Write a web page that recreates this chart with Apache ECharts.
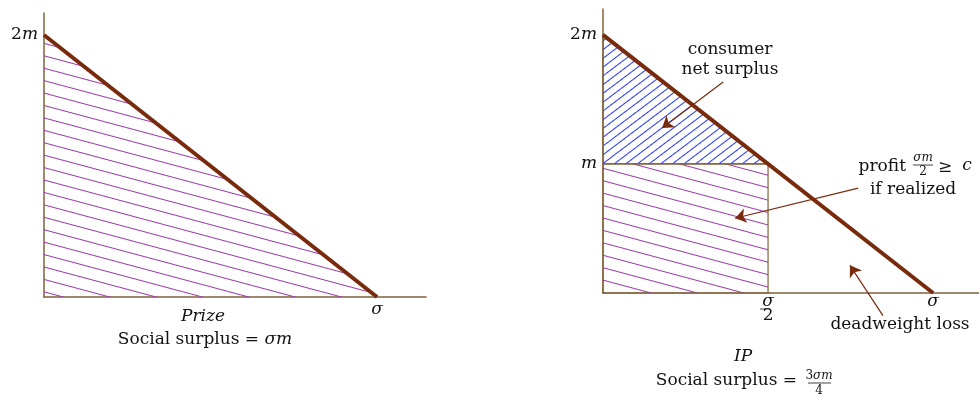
<!DOCTYPE html>
<html>
<head>
<meta charset="utf-8">
<script src="https://cdn.jsdelivr.net/npm/echarts@6/dist/echarts.min.js"></script>
<style>
  html, body { margin: 0; padding: 0; background: #fff; }
  #chart { width: 979px; height: 395px; }
</style>
</head>
<body>
<div id="chart"></div>
<script>
// units: sigma = 1, m = 1
const demandLine = [[0, 2], [1, 0]]
const prizeArea = [[0, 2], [1, 0], [0, 0]]
const consumerArea = [[0, 2], [0.5, 1], [0, 1]]
const profitArea = [[0, 1], [0.5, 1], [0.5, 0], [0, 0]]
const leftYTicks = [2]
const rightYTicks = [1, 2]
const leftXTicks = [1]
const rightXTicks = [0.5, 1]
const yTickText = { 1: '{i|m}', 2: '{n|2}{i|m}' }
const xTickText = { 0.5: '{i|σ}\n{n|2}', 1: '{i|σ}' }
// annotation arrows [from, to] in the right panel
const arrows = [
  [[0.364, 1.635], [0.179, 1.278]],
  [[0.773, 0.812], [0.4, 0.579]],
  [[0.848, -0.175], [0.748, 0.214]]
]

const LINE = '#772a0c'
const AXIS = '#80633a'
const INK = '#111'
const FONT = 'DejaVu Serif'

function hatch (color, gap, angle) {
  let c = document.createElement('canvas')
  c.width = 16
  c.height = gap
  let ctx = c.getContext('2d')
  ctx.fillStyle = color
  ctx.fillRect(0, Math.floor(gap / 2), 16, 1)
  return { image: c, repeat: 'repeat', rotation: angle * Math.PI / 180 }
}

function polygon (points, fill, stroke) {
  return function (params, api) {
    return {
      type: 'polygon',
      shape: { points: points.map(p => api.coord(p)) },
      style: { fill: fill, stroke: stroke || null, lineWidth: 1.2 }
    }
  }
}

function rich (size) {
  return {
    n: { fontFamily: FONT, fontSize: size, fill: INK, color: INK },
    i: { fontFamily: FONT, fontSize: size, fontStyle: 'italic', fill: INK, color: INK }
  }
}

function txt (x, y, text, opts) {
  opts = opts || {}
  return {
    type: 'text',
    x: x,
    y: y,
    z: 100,
    style: {
      text: text,
      fill: INK,
      fontFamily: FONT,
      fontSize: opts.size || 17,
      fontStyle: opts.italic ? 'italic' : 'normal',
      align: opts.align || 'center',
      verticalAlign: 'middle',
      rich: rich(opts.size || 17)
    }
  }
}

function bar (x1, x2, y) {
  return {
    type: 'line',
    z: 100,
    shape: { x1: x1, y1: y, x2: x2, y2: y },
    style: { stroke: INK, lineWidth: 0.8 }
  }
}

const axisBase = {
  type: 'value',
  min: 0,
  splitLine: { show: false },
  axisTick: { show: false },
  axisLine: { show: true, onZero: false, lineStyle: { color: AXIS, width: 1.5 } }
}

const myChart = echarts.init(document.getElementById('chart'))

let option = {
  animation: false,
  grid: [
    { left: 44, top: 13, width: 382, height: 284 },
    { left: 603, top: 9, width: 376, height: 284 }
  ],
  xAxis: [
    Object.assign({}, axisBase, {
      gridIndex: 0, max: 1.147,
      axisLabel: { customValues: leftXTicks, margin: 4, color: INK, verticalAlign: 'top', formatter: v => xTickText[v], rich: rich(17) }
    }),
    Object.assign({}, axisBase, {
      gridIndex: 1, max: 1.139,
      axisLabel: { customValues: rightXTicks, margin: 2, color: INK, verticalAlign: 'top', lineHeight: 14, formatter: v => xTickText[v], rich: rich(17) }
    })
  ],
  yAxis: [
    Object.assign({}, axisBase, {
      gridIndex: 0, max: 2.168,
      axisLabel: { customValues: leftYTicks, margin: 6, color: INK, formatter: v => yTickText[v], rich: rich(17) }
    }),
    Object.assign({}, axisBase, {
      gridIndex: 1, max: 2.2,
      axisLabel: { customValues: rightYTicks, margin: 6, color: INK, formatter: v => yTickText[v], rich: rich(17) }
    })
  ],
  series: [
    {
      type: 'custom', xAxisIndex: 0, yAxisIndex: 0, silent: true, z: 1,
      data: [[0, 0]],
      renderItem: polygon(prizeArea, hatch('#9a3aa8', 12, 15))
    },
    {
      type: 'custom', xAxisIndex: 1, yAxisIndex: 1, silent: true, z: 1,
      data: [[0, 0]],
      renderItem: polygon(profitArea, hatch('#9a3aa8', 12, 15), AXIS)
    },
    {
      type: 'custom', xAxisIndex: 1, yAxisIndex: 1, silent: true, z: 1,
      data: [[0, 0]],
      renderItem: polygon(consumerArea, hatch('#2236ff', 7, -37), AXIS)
    },
    {
      type: 'line', xAxisIndex: 0, yAxisIndex: 0, z: 5,
      data: demandLine, symbol: 'none',
      lineStyle: { color: LINE, width: 4 }
    },
    {
      type: 'line', xAxisIndex: 1, yAxisIndex: 1, z: 5,
      data: demandLine, symbol: 'none',
      lineStyle: { color: LINE, width: 4 }
    },
    {
      type: 'lines', coordinateSystem: 'cartesian2d', xAxisIndex: 1, yAxisIndex: 1,
      clip: false, z: 6,
      symbol: ['none', 'arrow'], symbolSize: [8, 11],
      lineStyle: { color: LINE, width: 1.2, opacity: 1 },
      data: arrows.map(a => ({ coords: a }))
    }
  ],
  graphic: [
    txt(203, 317, 'Prize', { italic: true }),
    txt(205, 340, '{n|Social surplus = }{i|σm}'),
    txt(730, 50, 'consumer'),
    txt(730, 70, 'net surplus'),
    txt(906, 167, 'profit', { align: 'right' }),
    txt(923, 158, '{i|σm}', { size: 12 }),
    bar(913, 933, 165),
    txt(923, 172, '2', { size: 12 }),
    txt(945, 168, '≥'),
    txt(967, 166, '{i|c}'),
    txt(913, 190, 'if realized'),
    txt(900, 325, 'deadweight loss'),
    txt(743, 357, 'IP', { italic: true }),
    txt(797, 381, 'Social surplus =', { align: 'right' }),
    txt(819, 376, '{n|3}{i|σm}', { size: 12 }),
    bar(808, 831, 383),
    txt(819, 391, '4', { size: 12 }),
    bar(760, 770, 309)
  ]
}

myChart.setOption(option, true)
</script>
</body>
</html>
